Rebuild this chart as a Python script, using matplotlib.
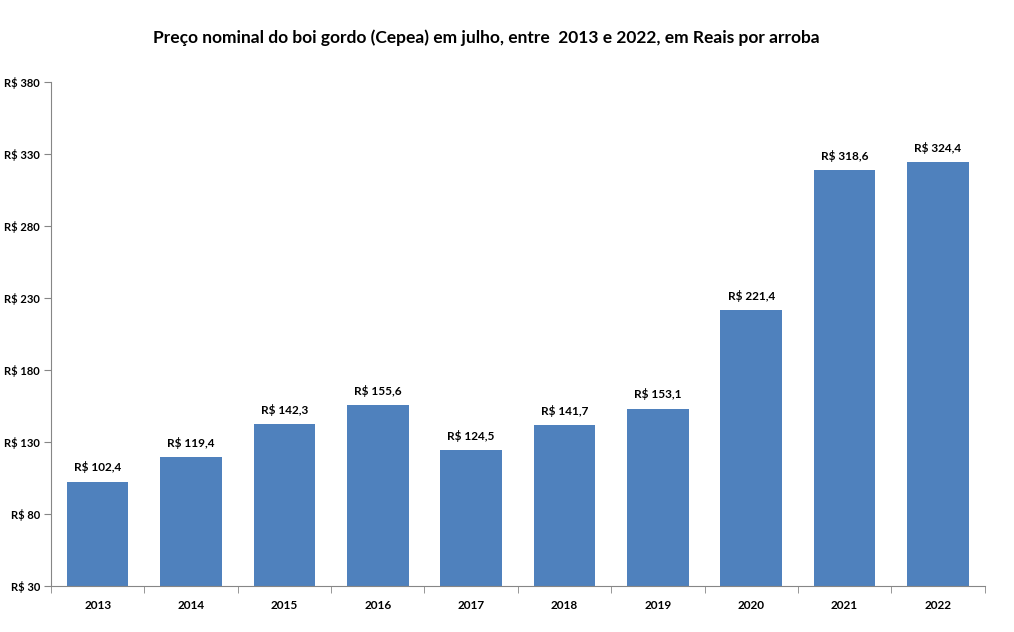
import matplotlib.pyplot as plt
import numpy as np

years = ['2013', '2014', '2015', '2016', '2017', '2018', '2019', '2020', '2021', '2022']
prices = [102.4, 119.4, 142.3, 155.6, 124.5, 141.7, 153.1, 221.4, 318.6, 324.4]
y_ticks = [30, 80, 130, 180, 230, 280, 330, 380]

plt.rcParams['font.family'] = ['Lato', 'DejaVu Sans']
plt.rcParams['font.weight'] = 'bold'

fig = plt.figure(figsize=(10.14, 6.32), dpi=100)
ax = fig.add_axes([0.0503, 0.0728, 0.9207, 0.7975])

x = np.arange(len(years))
bars = ax.bar(x, prices, width=0.66, color='#4F81BD', bottom=0)
ax.set_ylim(30, 380)
ax.set_xlim(-0.5, len(years) - 0.5)

# value labels above bars
for xi, v in zip(x, prices):
    label = 'R$ ' + f'{v:.1f}'.replace('.', ',')
    ax.annotate(label, (xi, v), textcoords='offset points', xytext=(0, 6),
                ha='center', va='bottom', fontsize=8.5, fontweight='bold')

ax.set_yticks(y_ticks)
ax.set_yticklabels([f'R$ {t}' for t in y_ticks], fontsize=8, fontweight='bold')

# category labels in the middle, tick marks on boundaries
ax.set_xticks(x)
ax.set_xticklabels(years, fontsize=8.5, fontweight='bold')
ax.tick_params(axis='x', length=0, pad=10)
ax.set_xticks(np.arange(-0.5, len(years) + 0.5, 1), minor=True)
ax.tick_params(axis='x', which='minor', length=5, color='#868686', direction='out')
ax.tick_params(axis='y', length=5, color='#868686', direction='out', pad=3)

for s in ['top', 'right']:
    ax.spines[s].set_visible(False)
for s in ['left', 'bottom']:
    ax.spines[s].set_color('#868686')

fig.text(0.48, 0.94, 'Preço nominal do boi gordo (Cepea) em julho, entre  2013 e 2022, em Reais por arroba',
         ha='center', va='center', fontsize=12.5, fontweight='bold')

fig.savefig('out.png', dpi=100)
